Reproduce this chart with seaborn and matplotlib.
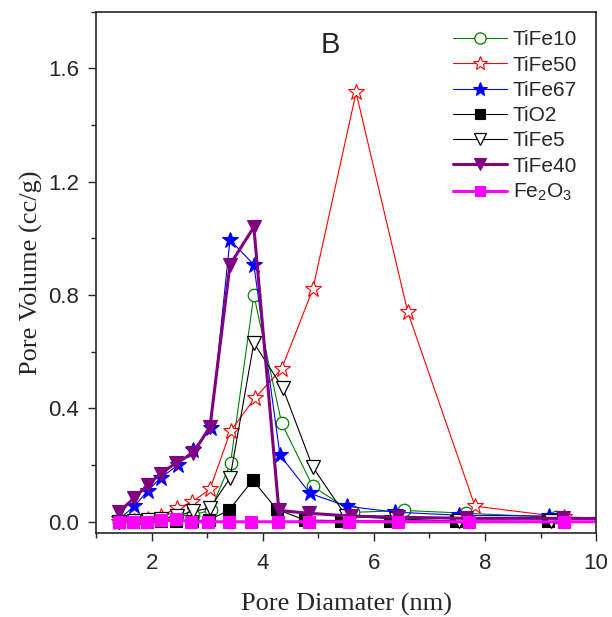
import numpy as np
import pandas as pd
import matplotlib
matplotlib.use("Agg")
import matplotlib.pyplot as plt
from matplotlib.ticker import MultipleLocator
import seaborn as sns

# pore diameter (nm) / pore volume (cc/g)
d_tife10 = [1.41, 1.68, 1.93, 2.16, 2.45, 2.75, 3.06, 3.42, 3.84, 4.34, 4.90, 5.62, 6.55, 7.66, 9.28]
v_tife10 = [0.0, 0.003, 0.006, 0.012, 0.02, 0.025, 0.04, 0.207, 0.80, 0.348, 0.125, 0.033, 0.04, 0.03, 0.016]

d_tife50 = [1.41, 1.68, 1.93, 2.16, 2.45, 2.72, 3.05, 3.42, 3.86, 4.34, 4.90, 5.68, 6.61, 7.82, 9.42, 11.2]
v_tife50 = [0.0, 0.003, 0.008, 0.02, 0.047, 0.069, 0.115, 0.32, 0.437, 0.54, 0.82, 1.515, 0.74, 0.055, 0.016, 0.01]

d_tife67 = [1.41, 1.69, 1.93, 2.16, 2.47, 2.74, 3.06, 3.41, 3.84, 4.31, 4.85, 5.51, 6.38, 7.53, 9.15]
v_tife67 = [0.009, 0.055, 0.11, 0.154, 0.2, 0.253, 0.33, 0.995, 0.907, 0.235, 0.10, 0.055, 0.034, 0.023, 0.02]

d_tio2 = [1.41, 1.66, 1.91, 2.16, 2.43, 2.72, 3.03, 3.39, 3.82, 4.25, 4.76, 5.40, 6.29, 7.48, 9.14]
v_tio2 = [0.0, 0.0, 0.0, 0.002, 0.003, 0.004, 0.006, 0.04, 0.147, 0.044, 0.006, 0.004, 0.003, 0.002, 0.001]

d_tife5 = [1.41, 1.68, 1.93, 2.16, 2.45, 2.74, 3.05, 3.41, 3.84, 4.36, 4.90, 5.50, 6.40, 7.53, 9.19]
v_tife5 = [0.0, 0.002, 0.005, 0.01, 0.02, 0.037, 0.048, 0.154, 0.631, 0.472, 0.193, 0.02, 0.01, 0.002, 0.001]

d_tife40 = [1.41, 1.68, 1.93, 2.16, 2.43, 2.75, 3.05, 3.41, 3.84, 4.29, 4.83, 5.59, 6.43, 7.66, 9.40, 11.2]
v_tife40 = [0.034, 0.083, 0.13, 0.17, 0.206, 0.243, 0.335, 0.907, 1.04, 0.04, 0.03, 0.02, 0.016, 0.012, 0.012, 0.01]

d_fe2o3 = [1.41, 1.66, 1.91, 2.16, 2.43, 2.70, 3.01, 3.39, 3.78, 4.27, 4.83, 5.55, 6.43, 7.71, 9.42, 11.2]
v_fe2o3 = [0.0, 0.0, 0.0, 0.005, 0.008, 0.0, 0.0, 0.0, 0.0, 0.0, 0.0, 0.0, 0.0, 0.0, 0.0, 0.0]

names = ["TiFe10", "TiFe50", "TiFe67", "TiO2", "TiFe5", "TiFe40", "Fe$_2$O$_3$"]
xs = [d_tife10, d_tife50, d_tife67, d_tio2, d_tife5, d_tife40, d_fe2o3]
ys = [v_tife10, v_tife50, v_tife67, v_tio2, v_tife5, v_tife40, v_fe2o3]

styles = {
	"TiFe10": dict(color="#008000", marker="o", mfc="white", ms=9, lw=0.8, mew=0.9),
	"TiFe50": dict(color="#ff0000", marker="*", mfc="white", ms=12, lw=0.8, mew=0.8),
	"TiFe67": dict(color="#0000ff", marker="*", mfc="#0000ff", ms=12, lw=0.8, mew=0.8),
	"TiO2": dict(color="black", marker="s", mfc="black", ms=8, lw=0.8, mew=0.8),
	"TiFe5": dict(color="black", marker="v", mfc="white", ms=10, lw=0.8, mew=0.9),
	"TiFe40": dict(color="#800080", marker="v", mfc="#800080", ms=10, lw=2.2, mew=0.8),
	"Fe$_2$O$_3$": dict(color="#ff00ff", marker="s", mfc="#ff00ff", ms=8, lw=2.2, mew=0.8),
}

sns.set_style("ticks")
plt.rcParams.update({'font.size': 12, 'font.family': ['Liberation Sans', 'DejaVu Sans'],
	'mathtext.default': 'regular'})

fig = plt.figure(figsize=(6.12, 6.17), dpi=100)
ax = fig.add_axes([0.157, 0.136, 0.817, 0.845])

for name, x, y in zip(names, xs, ys):
	df = pd.DataFrame({"d": x, "v": y})
	st = styles[name]
	sns.lineplot(x="d", y="v", data=df, ax=ax, sort=False, estimator=None, label=name,
		color=st["color"], marker=st["marker"], markerfacecolor=st["mfc"],
		markeredgecolor=st["color"], markersize=st["ms"], linewidth=st["lw"],
		markeredgewidth=st["mew"])

ax.set_xlim(1, 10)
ax.set_ylim(-0.04, 1.80)
ax.set_xticks([2, 4, 6, 8, 10])
ax.set_yticks([0.0, 0.4, 0.8, 1.2, 1.6])
ax.set_yticklabels(["0.0", "0.4", "0.8", "1.2", "1.6"])
ax.xaxis.set_minor_locator(MultipleLocator(1))
ax.yaxis.set_minor_locator(MultipleLocator(0.2))
ax.tick_params(which='major', direction='out', length=6, width=1, labelsize=16, pad=6)
ax.tick_params(which='minor', direction='out', length=3.5, width=1)
ax.tick_params(axis='x', which='major', pad=8)
for s in ax.spines.values():
	s.set_linewidth(1.2)
	s.set_visible(True)

ax.set_xlabel("Pore Diamater (nm)", family="Liberation Serif", fontsize=19, labelpad=14)
ax.set_ylabel("Pore Volume (cc/g)", family="Liberation Serif", fontsize=19, labelpad=4)
ax.text(0.468, 0.937, "B", transform=ax.transAxes, fontsize=21, ha="center", va="center")

ax.legend(loc="upper right", frameon=False, fontsize=15, handlelength=2.6,
	labelspacing=0.3, borderaxespad=0.5, handletextpad=0.3, markerscale=0.9)

fig.savefig("out.png", dpi=100)
